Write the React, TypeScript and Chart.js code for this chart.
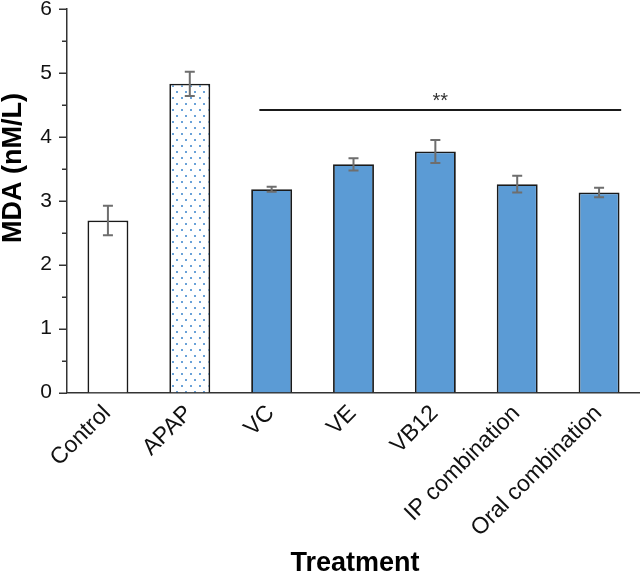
import React, { useEffect, useRef } from "react";
import { Chart, registerables } from "chart.js";

Chart.register(...registerables);

const categories = ["Control", "APAP", "VC", "VE", "VB12", "IP combination", "Oral combination"];
const mdaValues = [2.69, 4.83, 3.18, 3.57, 3.77, 3.26, 3.13];
const mdaErrors = [0.23, 0.19, 0.04, 0.095, 0.18, 0.13, 0.075];
const yTickValues = [0, 1, 2, 3, 4, 5, 6];
const sigLevel = 4.42;
const sigLabel = "**";
const sigFrom = "VC";
const sigTo = "Oral combination";
const yTitle = "MDA (nM/L)";
const xTitle = "Treatment";

const FONT = '"Liberation Sans", Arial, Helvetica, sans-serif';

export default function App() {
  const ref = useRef<HTMLCanvasElement | null>(null);

  useEffect(() => {
    const canvas = ref.current;
    if (!canvas) return;

    // dotted pattern for APAP bar
    const tile = document.createElement("canvas");
    tile.width = 9;
    tile.height = 12;
    const tctx = tile.getContext("2d")!;
    tctx.fillStyle = "#ffffff";
    tctx.fillRect(0, 0, 9, 12);
    tctx.fillStyle = "#6aa2d8";
    tctx.fillRect(1, 1, 2, 2);
    tctx.fillRect(5, 7, 2, 2);
    const ctx0 = canvas.getContext("2d")!;
    const pattern = ctx0.createPattern(tile, "repeat");

    const fills = categories.map((c, i) =>
      i === 0 ? "#ffffff" : i === 1 ? pattern : "#5b9bd5"
    );

    const extras = {
      id: "extras",
      afterDatasetsDraw(chart: any) {
        const ctx = chart.ctx;
        const ys = chart.scales.y;
        const xs = chart.scales.x;
        const meta = chart.getDatasetMeta(0);
        ctx.save();
        // error bars
        ctx.strokeStyle = "#6e6e6e";
        ctx.lineWidth = 2;
        meta.data.forEach((bar: any, i: number) => {
          const x = bar.x;
          const yt = ys.getPixelForValue(mdaValues[i] + mdaErrors[i]);
          const yb = ys.getPixelForValue(mdaValues[i] - mdaErrors[i]);
          ctx.beginPath();
          ctx.moveTo(x, yt);
          ctx.lineTo(x, yb);
          ctx.moveTo(x - 5, yt);
          ctx.lineTo(x + 5, yt);
          ctx.moveTo(x - 5, yb);
          ctx.lineTo(x + 5, yb);
          ctx.stroke();
        });
        // y axis tick marks
        ctx.strokeStyle = "#333333";
        ctx.lineWidth = 1.5;
        const ax = chart.chartArea.left;
        for (let v = 0; v <= 6.001; v += 0.5) {
          const py = Math.round(ys.getPixelForValue(v)) + 0.25;
          const major = Math.abs(v - Math.round(v)) < 1e-6;
          ctx.beginPath();
          ctx.moveTo(ax - (major ? 8 : 5), py);
          ctx.lineTo(ax, py);
          ctx.stroke();
        }
        // x category labels (rotated)
        const axisY = chart.chartArea.bottom;
        ctx.fillStyle = "#111111";
        ctx.font = `23px ${FONT}`;
        ctx.textAlign = "right";
        ctx.textBaseline = "top";
        categories.forEach((c, i) => {
          const cx = xs.getPixelForValue(i);
          ctx.save();
          ctx.translate(cx - 9, axisY + 9);
          ctx.rotate(-Math.PI / 4);
          ctx.fillText(c, 0, 0);
          ctx.restore();
        });
        // significance line
        const catW = (chart.chartArea.right - chart.chartArea.left) / categories.length;
        const x1 = xs.getPixelForValue(categories.indexOf(sigFrom)) - 0.15 * catW;
        const x2 = xs.getPixelForValue(categories.indexOf(sigTo)) + 0.27 * catW;
        const sy = ys.getPixelForValue(sigLevel);
        ctx.strokeStyle = "#1a1a1a";
        ctx.lineWidth = 2;
        ctx.beginPath();
        ctx.moveTo(x1, sy);
        ctx.lineTo(x2, sy);
        ctx.stroke();
        ctx.fillStyle = "#333333";
        ctx.font = `20px ${FONT}`;
        ctx.textAlign = "center";
        ctx.textBaseline = "alphabetic";
        ctx.fillText(sigLabel, (x1 + x2) / 2, sy - 3);
        // axis titles
        ctx.fillStyle = "#000000";
        ctx.font = `bold 27px ${FONT}`;
        ctx.textAlign = "center";
        ctx.textBaseline = "alphabetic";
        ctx.fillText(xTitle, 355, 571);
        ctx.translate(21, 168);
        ctx.rotate(-Math.PI / 2);
        ctx.fillText(yTitle, 0, 0);
        ctx.restore();
      },
    };

    const chart = new Chart(canvas, {
      type: "bar",
      data: {
        labels: categories,
        datasets: [
          {
            data: mdaValues,
            backgroundColor: fills as any,
            borderColor: "#1a1a1a",
            borderWidth: 1.8,
            borderSkipped: "bottom",
            barPercentage: 1,
            categoryPercentage: 0.5,
          },
        ],
      },
      options: {
        responsive: false,
        animation: false,
        layout: { padding: { top: 9, right: 0, left: 0, bottom: 0 } },
        plugins: {
          legend: { display: false },
          tooltip: { enabled: false },
          title: { display: false },
        },
        scales: {
          x: {
            type: "category",
            grid: { display: false, drawTicks: false },
            border: { display: true, color: "#333333", width: 1.5 },
            ticks: { display: false },
            afterFit: (s: any) => {
              s.height = 181.5;
              s.paddingLeft = 0;
              s.paddingRight = 0;
            },
          },
          y: {
            min: 0,
            max: 6,
            grid: { display: false, drawTicks: false },
            border: { display: true, color: "#333333", width: 1.5 },
            ticks: {
              stepSize: 1,
              color: "#111111",
              font: { family: FONT, size: 21 },
              padding: 15,
              callback: (v: any) => (yTickValues.includes(Number(v)) ? String(v) : ""),
            },
            afterFit: (s: any) => {
              s.width = 67;
              s.paddingTop = 0;
              s.paddingBottom = 0;
            },
          },
        },
      },
      plugins: [extras],
    });

    return () => chart.destroy();
  }, []);

  return (
    <div style={{ position: "fixed", left: 0, top: 0, width: 640, height: 574, background: "#fff" }}>
      <canvas ref={ref} width={640} height={574} style={{ display: "block" }} />
    </div>
  );
}
